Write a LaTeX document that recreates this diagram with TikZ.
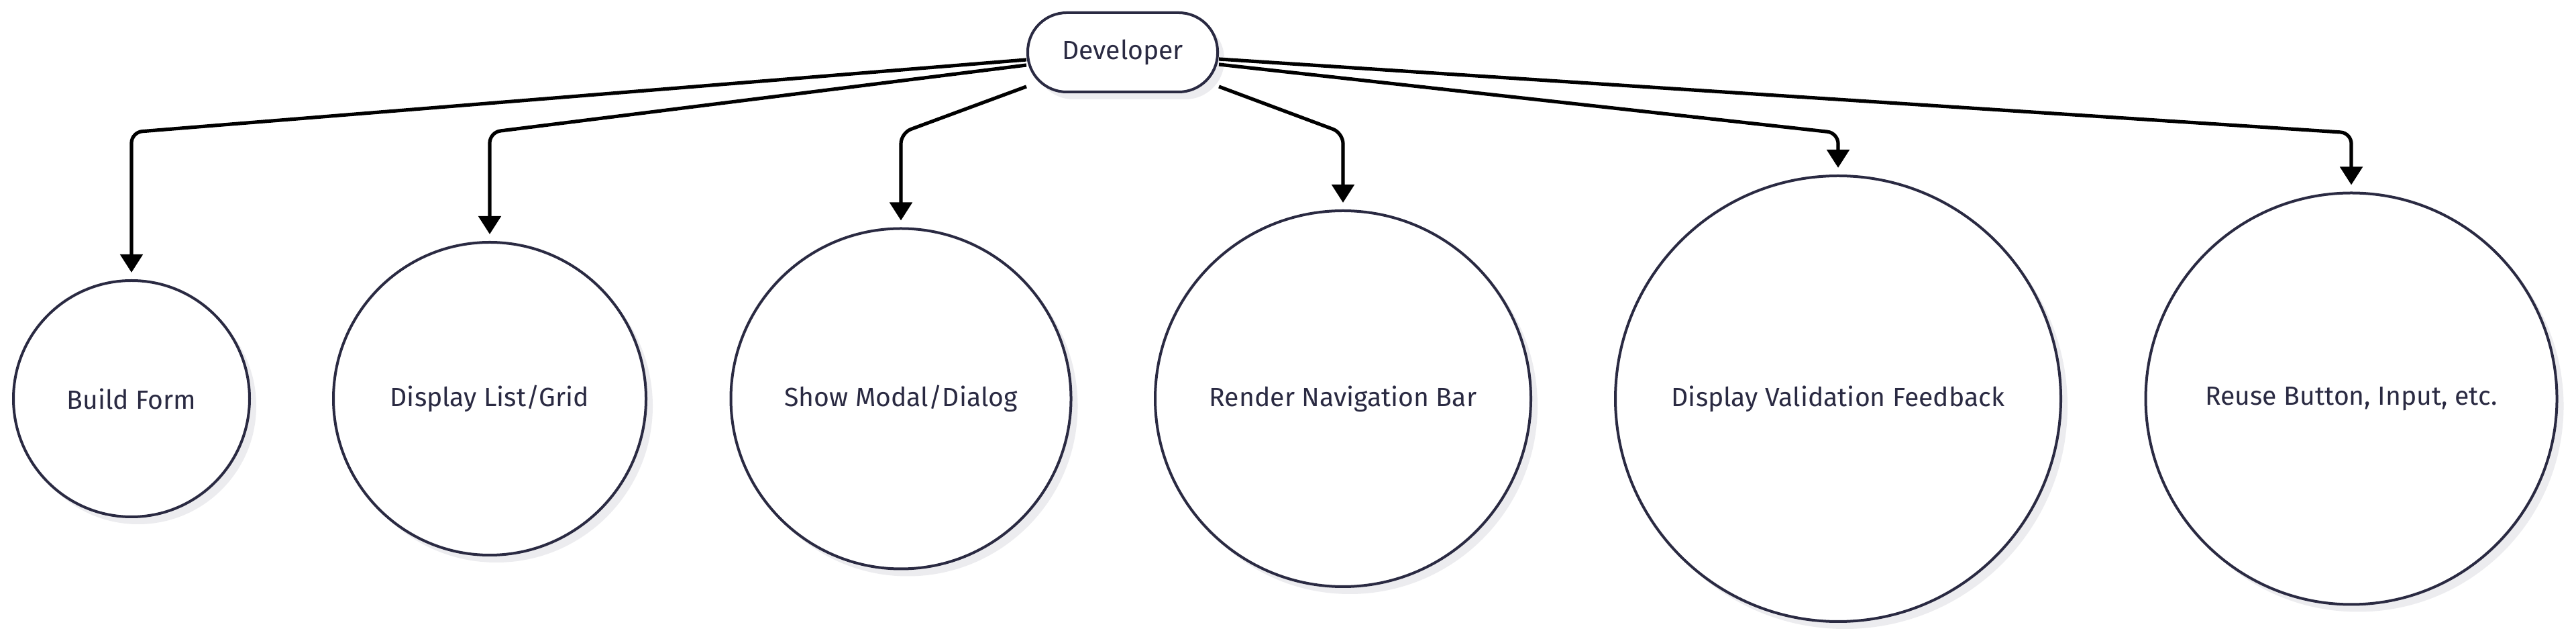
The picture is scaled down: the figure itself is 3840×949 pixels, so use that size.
\documentclass[tikz,border=0pt]{standalone}
\usepackage{fontspec}
\setmainfont{Fira Sans}
\usetikzlibrary{arrows.meta,shadows,calc}
\definecolor{ink}{HTML}{2A2A42}
\definecolor{shade}{HTML}{ECECEF}
\begin{document}
\begin{tikzpicture}[x=0.25pt,y=-0.25pt,
  lbl/.style={text=ink, font=\fontsize{9.8pt}{12pt}\selectfont},
  sh/.style={drop shadow={shadow xshift=2.5pt, shadow yshift=-2.75pt, fill=shade, opacity=1}},
  circ/.style={circle, draw=ink, line width=1pt, fill=white, inner sep=0pt, lbl, sh},
  devbox/.style={rectangle, rounded corners=14.5pt, draw=ink, line width=1pt, fill=white,
    minimum width=70.75pt, minimum height=29.5pt, inner sep=0pt, lbl, sh},
  conn/.style={draw=black, line width=1.3pt, rounded corners=4pt,
    -{Triangle[length=6.75pt,width=8.25pt]}}
]
\useasboundingbox[fill=white] (0,0) rectangle (3840,949);

\node[devbox] (dev) at (1673.5,78) {Developer};

\node[circ, minimum size=88pt]     (c1) at (196,594)  {Build Form};
\node[circ, minimum size=116.5pt]  (c2) at (730,594)  {Display List/Grid};
\node[circ, minimum size=126.75pt] (c3) at (1343,594) {Show Modal/Dialog};
\node[circ, minimum size=140pt]    (c4) at (2002,594) {Render Navigation Bar};
\node[circ, minimum size=166pt]    (c5) at (2740,594) {Display Validation Feedback};
\node[circ, minimum size=153.25pt] (c6) at (3505,594) {Reuse Button, Input, etc.};

% start points on the Developer box
\coordinate (L1) at ($(dev.west)+(0,11)$);
\coordinate (L2) at ($(dev.west)+(0,19)$);
\coordinate (L3) at ($(dev.west)+(0,51)$);
\coordinate (R1) at ($(dev.east)+(0,10)$);
\coordinate (R2) at ($(dev.east)+(0,18)$);
\coordinate (R3) at ($(dev.east)+(0,51)$);

% bends
\coordinate (k1) at (196,197);
\coordinate (k2) at (730,197);
\coordinate (k3) at (1343,198);
\coordinate (k4) at (2002,198);
\coordinate (k5) at (2740,198);
\coordinate (k6) at (3505,198);

\draw[conn] (L1) -- (k1) -- ($(c1.north)+(0,-10)$);
\draw[conn] (L2) -- (k2) -- ($(c2.north)+(0,-10)$);
\draw[conn] (L3) -- (k3) -- ($(c3.north)+(0,-10)$);
\draw[conn] (R3) -- (k4) -- ($(c4.north)+(0,-10)$);
\draw[conn] (R2) -- (k5) -- ($(c5.north)+(0,-10)$);
\draw[conn] (R1) -- (k6) -- ($(c6.north)+(0,-10)$);
\end{tikzpicture}
\end{document}
